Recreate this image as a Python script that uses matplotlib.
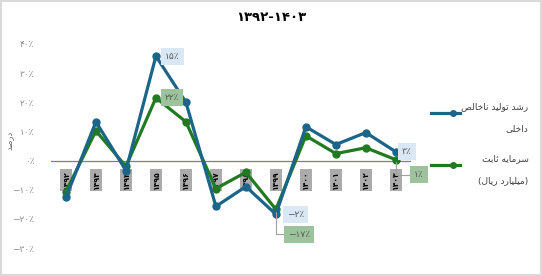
import matplotlib
matplotlib.use("Agg")
import matplotlib.pyplot as plt
from matplotlib.lines import Line2D
from matplotlib.patches import Rectangle

# data
years = ["۱۳۹۲", "۱۳۹۳", "۱۳۹۴", "۱۳۹۵", "۱۳۹۶", "۱۳۹۷",
         "۱۳۹۸", "۱۳۹۹", "۱۴۰۰", "۱۴۰۱", "۱۴۰۲", "۱۴۰۳"]
gdp_growth = [-12.6, 13.3, -3.4, 35.8, 20.0, -15.7, -8.9, -18.4, 11.6, 5.5, 9.6, 3.0]
fixed_capital = [-10.6, 10.2, -2.0, 21.5, 13.3, -9.6, -4.0, -16.7, 8.5, 2.4, 4.4, 0.3]
yticks = [-30, -20, -10, 0, 10, 20, 30, 40]
ytick_labels = ["−۳۰٪", "−۲۰٪", "−۱۰٪", "۰٪", "۱۰٪", "۲۰٪", "۳۰٪", "۴۰٪"]
title = "۱۳۹۲-۱۴۰۳"
gdp_name = ["رشد تولید ناخالص", "داخلی"]
cap_name = ["سرمایه ثابت", "(میلیارد ریال)"]
y_name = "درصد"
# (series, year index, label text, offset px, leader line)
point_labels = [
    ("gdp", 3, "۱۵٪", (9, 0), False),
    ("cap", 3, "۲۲٪", (9, 0), False),
    ("gdp", 7, "−۲٪", (11, 0), False),
    ("cap", 7, "−۱۷٪", (12, -25), True),
    ("gdp", 11, "۳٪", (6, 0), False),
    ("cap", 11, "۱٪", (18, -15), True),
]

# --- minimal Persian shaping (matplotlib has no RTL layout) ---
FORMS = {
    "ا": ("\uFE8D", "\uFE8E", None, None),
    "ب": ("\uFE8F", "\uFE90", "\uFE91", "\uFE92"),
    "ت": ("\uFE95", "\uFE96", "\uFE97", "\uFE98"),
    "ث": ("\uFE99", "\uFE9A", "\uFE9B", "\uFE9C"),
    "خ": ("\uFEA5", "\uFEA6", "\uFEA7", "\uFEA8"),
    "د": ("\uFEA9", "\uFEAA", None, None),
    "ر": ("\uFEAD", "\uFEAE", None, None),
    "س": ("\uFEB1", "\uFEB2", "\uFEB3", "\uFEB4"),
    "ش": ("\uFEB5", "\uFEB6", "\uFEB7", "\uFEB8"),
    "ص": ("\uFEB9", "\uFEBA", "\uFEBB", "\uFEBC"),
    "ل": ("\uFEDD", "\uFEDE", "\uFEDF", "\uFEE0"),
    "م": ("\uFEE1", "\uFEE2", "\uFEE3", "\uFEE4"),
    "ن": ("\uFEE5", "\uFEE6", "\uFEE7", "\uFEE8"),
    "ه": ("\uFEE9", "\uFEEA", "\uFEEB", "\uFEEC"),
    "و": ("\uFEED", "\uFEEE", None, None),
    "ی": ("\uFBFC", "\uFBFD", "\uFBFE", "\uFBFF"),
}


def fa(s):
    out = []
    for i, c in enumerate(s):
        if c not in FORMS:
            out.append(c)
            continue
        prev = s[i - 1] if i > 0 else ""
        nxt = s[i + 1] if i + 1 < len(s) else ""
        jp = prev in FORMS and FORMS[prev][2] is not None
        jn = FORMS[c][2] is not None and nxt in FORMS
        iso, fin, ini, med = FORMS[c]
        out.append(med if jp and jn else fin if jp else ini if jn else iso)
    vis = "".join(reversed(out))
    return vis.translate(str.maketrans("()", ")("))


blue = "#1b6589"
green = "#217a21"

fig = plt.figure(figsize=(5.42, 2.76), dpi=100)
fig.patches.append(Rectangle((0.002, 0.004), 0.996, 0.992, transform=fig.transFigure,
                             fill=False, edgecolor="#d9d9d9", linewidth=1.5))
ax = fig.add_axes([0.094, 0.101, 0.664, 0.740])

x = list(range(len(years)))
ax.axhline(0, color="#4f8db3", linewidth=0.9, zorder=1)
ax.plot(x, gdp_growth, color=blue, linewidth=2.3, marker="o", markersize=5, zorder=3)
ax.plot(x, fixed_capital, color=green, linewidth=2.3, marker="o", markersize=5, zorder=2)

ax.set_xlim(-0.5, len(years) - 0.5)
ax.set_ylim(-30, 40)
ax.set_xticks([])
ax.set_yticks(yticks)
ax.set_yticklabels(ytick_labels, color="#8c8c8c", fontsize=6.5)
ax.tick_params(axis="y", length=0, pad=12)
for s in ax.spines.values():
    s.set_visible(False)

# year labels sit under the lines, just below the zero line
for xi, yr in zip(x, years):
    ax.annotate(yr, (xi, 0), xytext=(0, -10), textcoords="offset pixels",
                rotation=90, ha="center", va="top", fontsize=5.5, fontweight="bold",
                bbox=dict(boxstyle="square,pad=0.2", facecolor="#ababab", edgecolor="none"),
                zorder=1.5)

series = {"gdp": (gdp_growth, "#dae7f5"), "cap": (fixed_capital, "#9dc39d")}
for key, idx, txt, off, leader in point_labels:
    vals, bg = series[key]
    ax.annotate(txt, (idx, vals[idx]), xytext=off, textcoords="offset pixels",
                ha="left", va="center", fontsize=6.5, color="#555555",
                bbox=dict(boxstyle="square,pad=0.45", facecolor=bg, edgecolor="none"),
                arrowprops=dict(arrowstyle="-", color="#a0a0a0", linewidth=0.8,
                                connectionstyle="angle,angleA=0,angleB=90,rad=0",
                                shrinkA=0, shrinkB=2) if leader else None,
                zorder=5)

fig.text(0.5, 0.935, title, ha="center", va="center", fontsize=9.5, fontweight="bold")
fig.text(0.018, 0.49, fa(y_name), rotation=90, ha="center", va="center",
         fontsize=6, color="#666666")

# legend drawn by hand so the RTL labels sit like the original
for ycen, col, lines in [(0.591, blue, gdp_name), (0.402, green, cap_name)]:
    fig.add_artist(Line2D([0.795, 0.849], [ycen, ycen], color=col, linewidth=2.3,
                          transform=fig.transFigure))
    fig.add_artist(Line2D([0.836], [ycen], color=col, marker="o", markersize=4,
                          transform=fig.transFigure))
    fig.text(0.975, ycen + 0.022, fa(lines[0]), ha="right", va="center",
             fontsize=6.5, color="#404040")
    fig.text(0.975, ycen - 0.056, fa(lines[1]), ha="right", va="center",
             fontsize=6.5, color="#404040")

fig.savefig("out.png", dpi=100)
